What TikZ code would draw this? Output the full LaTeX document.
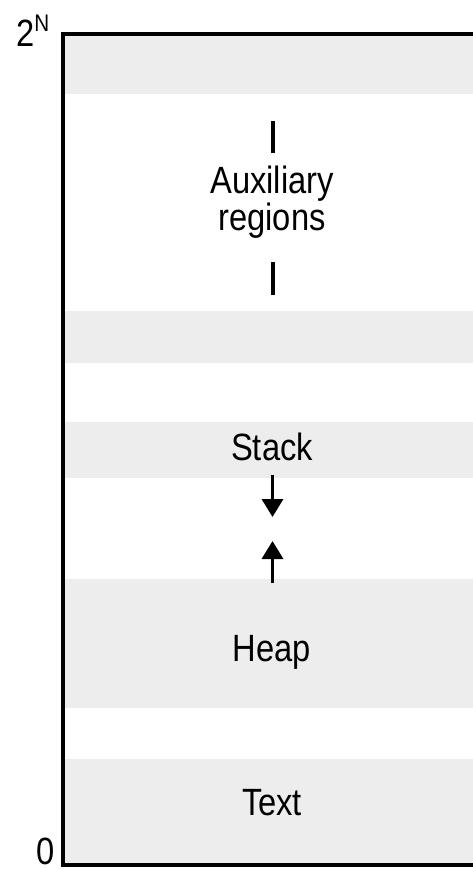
\documentclass[tikz,border=0pt]{standalone}
\usepackage{fontspec}
\setmainfont[FakeStretch=0.86]{Liberation Sans}
\usetikzlibrary{arrows.meta}
\definecolor{bandgray}{RGB}{237,237,237}
\tikzset{
  band/.style={fill=bandgray, draw=none},
  frame/.style={line width=4pt, line join=miter, line cap=butt},
  lbl/.style={inner sep=0pt, font=\fontsize{38}{33}\selectfont, align=center},
  bar/.style={line width=4pt},
  growarrow/.style={line width=3.5pt, -{Triangle[length=18pt,width=21pt]}}
}
\begin{document}
\begin{tikzpicture}[x=1pt,y=-1pt]
\useasboundingbox (0,0) rectangle (472,869);
% bands
\fill[band] (63,34) rectangle (476,94);
\fill[band] (63,311) rectangle (476,363);
\fill[band] (63,422) rectangle (476,478);
\fill[band] (63,579) rectangle (476,708);
\fill[band] (63,759) rectangle (476,865);
% frame
\draw[frame] (478,34) -- (63,34) -- (63,865) -- (478,865);
% labels
\node[lbl, anchor=base west] (top) at (16,47) {2\raisebox{15pt}{\fontsize{24}{24}\selectfont N}};
\node[lbl, anchor=base east, text depth=0pt] (zero) at (55,864) {0};
\node[lbl, anchor=base] (aux) at (272,230) {Auxiliary\\regions};
\node[lbl, anchor=base] (stack) at (272,460) {Stack};
\node[lbl, anchor=base] (heap) at (272,661) {Heap};
\node[lbl, anchor=base] (text) at (272,815) {Text};
% bars
\coordinate (b1s) at (273,121); \coordinate (b1e) at (273,153);
\coordinate (b2s) at (273,262); \coordinate (b2e) at (273,295);
\draw[bar] (b1s) -- (b1e);
\draw[bar] (b2s) -- (b2e);
% arrows
\coordinate (d1) at (272.5,475); \coordinate (d2) at (272.5,517);
\coordinate (u1) at (272.5,583); \coordinate (u2) at (272.5,541);
\draw[growarrow] (d1) -- (d2);
\draw[growarrow] (u1) -- (u2);
\end{tikzpicture}
\end{document}
